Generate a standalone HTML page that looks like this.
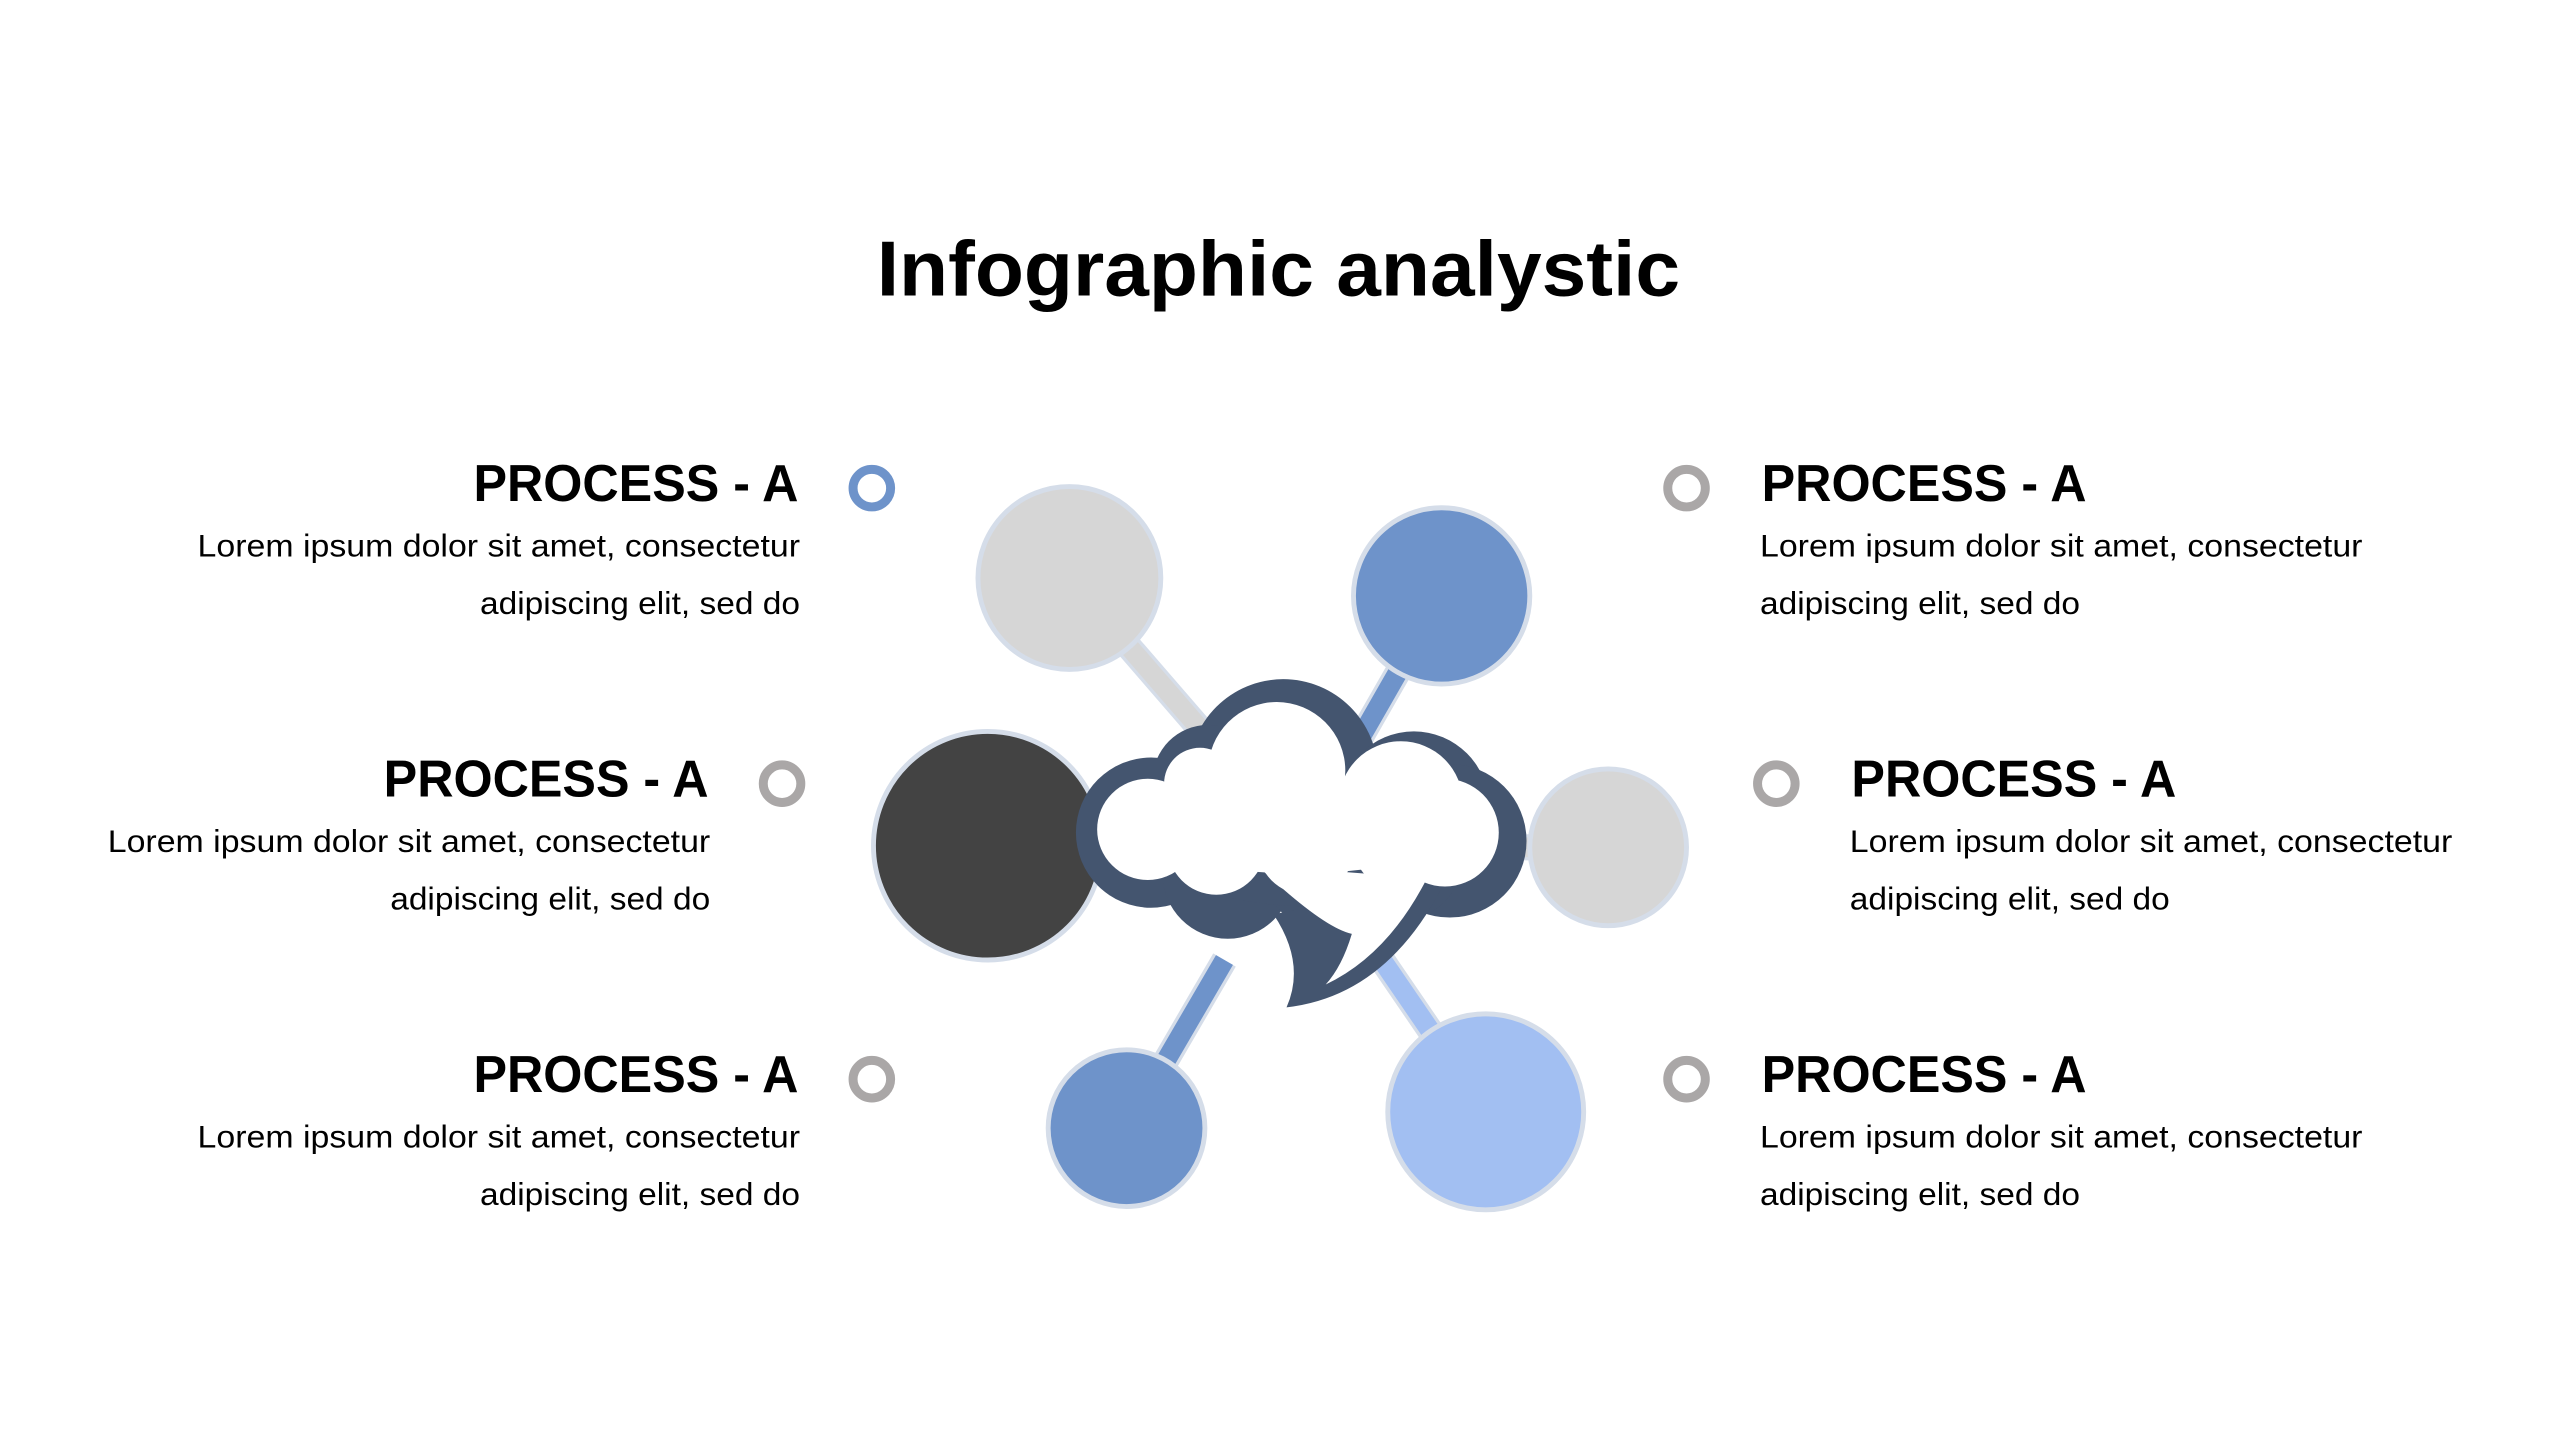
<!DOCTYPE html>
<html><head><meta charset="utf-8"><style>
html,body{margin:0;padding:0;background:#fff;}
svg{display:block;}
text{font-family:"Liberation Sans",Arial,sans-serif;}
</style></head><body>
<svg width="2560" height="1440" viewBox="0 0 1568 882" xmlns="http://www.w3.org/2000/svg">
<rect width="1568" height="882" fill="#fff"/>
<text x="783" y="181" text-anchor="middle" font-size="48" font-weight="bold" fill="#000" textLength="492" lengthAdjust="spacingAndGlyphs">Infographic analystic</text>

<g stroke-linecap="butt">
 <line x1="655" y1="354" x2="790" y2="510" stroke="#d5dde9" stroke-width="16"/>
 <line x1="655" y1="354" x2="790" y2="510" stroke="#d6d6d6" stroke-width="12"/>
 <line x1="883" y1="365" x2="800" y2="510" stroke="#d5dde9" stroke-width="16"/>
 <line x1="883" y1="365" x2="800" y2="510" stroke="#6e93ca" stroke-width="12"/>
 <line x1="985" y1="519" x2="800" y2="519" stroke="#d5dde9" stroke-width="16"/>
 <line x1="985" y1="519" x2="800" y2="519" stroke="#d6d6d6" stroke-width="12"/>
 <line x1="690" y1="691" x2="750" y2="588" stroke="#d5dde9" stroke-width="16"/>
 <line x1="690" y1="691" x2="750" y2="588" stroke="#6e93ca" stroke-width="12"/>
 <line x1="910" y1="681" x2="800" y2="520" stroke="#d5dde9" stroke-width="16"/>
 <line x1="910" y1="681" x2="800" y2="520" stroke="#a2bff2" stroke-width="12"/>
</g>

<g stroke="#d5dde9" stroke-width="3">
 <circle cx="655" cy="354" r="56" fill="#d6d6d6"/>
 <circle cx="883" cy="365" r="54" fill="#6e93ca"/>
 <circle cx="605" cy="518" r="70" fill="#434343"/>
 <circle cx="985" cy="519" r="48" fill="#d6d6d6"/>
 <circle cx="690" cy="691" r="48" fill="#6e93ca"/>
 <circle cx="910" cy="681" r="60" fill="#a2bff2"/>
</g>

<g fill="#44556f">
 <circle cx="786" cy="474" r="58"/>
 <circle cx="866" cy="494" r="46"/>
 <circle cx="888" cy="515" r="47"/>
 <circle cx="740" cy="478" r="34"/>
 <circle cx="705" cy="510" r="46"/>
 <circle cx="752" cy="535" r="40"/>
 <circle cx="812" cy="532" r="38"/>
 <circle cx="862" cy="530" r="32"/>
 <ellipse cx="800" cy="510" rx="100" ry="45"/>
 <path d="M780 560 Q800 590 788 617 Q850 610 885 540 Z"/>
</g>
<g fill="#fff">
 <circle cx="782" cy="472" r="42"/>
 <circle cx="858" cy="492" r="38"/>
 <circle cx="885" cy="510" r="33"/>
 <circle cx="735" cy="480" r="22"/>
 <circle cx="703" cy="508" r="31"/>
 <circle cx="745" cy="518" r="30"/>
 <circle cx="800" cy="518" r="30"/>
 <circle cx="855" cy="518" r="26"/>
 <ellipse cx="795" cy="505" rx="100" ry="30"/>
 <path d="M770 530 Q810 568 828 572 Q822 592 812 603 Q850 585 874 538 Z"/>
</g>

<g fill="none" stroke-width="5.5">
 <circle cx="534" cy="299" r="11.5" stroke="#6e93ca"/>
 <circle cx="479" cy="480" r="11.5" stroke="#aaa7a7"/>
 <circle cx="534" cy="661" r="11.5" stroke="#aaa7a7"/>
 <circle cx="1033" cy="299" r="11.5" stroke="#aaa7a7"/>
 <circle cx="1088" cy="480" r="11.5" stroke="#aaa7a7"/>
 <circle cx="1033" cy="661" r="11.5" stroke="#aaa7a7"/>
</g>

<g fill="#000">
 <text x="489" y="307" text-anchor="end" font-size="32" font-weight="bold" textLength="199" lengthAdjust="spacingAndGlyphs">PROCESS - A</text>
 <text x="490" y="341" text-anchor="end" font-size="19" textLength="369" lengthAdjust="spacingAndGlyphs">Lorem ipsum dolor sit amet, consectetur</text>
 <text x="490" y="376" text-anchor="end" font-size="19" textLength="196" lengthAdjust="spacingAndGlyphs">adipiscing elit, sed do</text>

 <text x="434" y="488" text-anchor="end" font-size="32" font-weight="bold" textLength="199" lengthAdjust="spacingAndGlyphs">PROCESS - A</text>
 <text x="435" y="522" text-anchor="end" font-size="19" textLength="369" lengthAdjust="spacingAndGlyphs">Lorem ipsum dolor sit amet, consectetur</text>
 <text x="435" y="557" text-anchor="end" font-size="19" textLength="196" lengthAdjust="spacingAndGlyphs">adipiscing elit, sed do</text>

 <text x="489" y="669" text-anchor="end" font-size="32" font-weight="bold" textLength="199" lengthAdjust="spacingAndGlyphs">PROCESS - A</text>
 <text x="490" y="703" text-anchor="end" font-size="19" textLength="369" lengthAdjust="spacingAndGlyphs">Lorem ipsum dolor sit amet, consectetur</text>
 <text x="490" y="738" text-anchor="end" font-size="19" textLength="196" lengthAdjust="spacingAndGlyphs">adipiscing elit, sed do</text>

 <text x="1079" y="307" font-size="32" font-weight="bold" textLength="199" lengthAdjust="spacingAndGlyphs">PROCESS - A</text>
 <text x="1078" y="341" font-size="19" textLength="369" lengthAdjust="spacingAndGlyphs">Lorem ipsum dolor sit amet, consectetur</text>
 <text x="1078" y="376" font-size="19" textLength="196" lengthAdjust="spacingAndGlyphs">adipiscing elit, sed do</text>

 <text x="1134" y="488" font-size="32" font-weight="bold" textLength="199" lengthAdjust="spacingAndGlyphs">PROCESS - A</text>
 <text x="1133" y="522" font-size="19" textLength="369" lengthAdjust="spacingAndGlyphs">Lorem ipsum dolor sit amet, consectetur</text>
 <text x="1133" y="557" font-size="19" textLength="196" lengthAdjust="spacingAndGlyphs">adipiscing elit, sed do</text>

 <text x="1079" y="669" font-size="32" font-weight="bold" textLength="199" lengthAdjust="spacingAndGlyphs">PROCESS - A</text>
 <text x="1078" y="703" font-size="19" textLength="369" lengthAdjust="spacingAndGlyphs">Lorem ipsum dolor sit amet, consectetur</text>
 <text x="1078" y="738" font-size="19" textLength="196" lengthAdjust="spacingAndGlyphs">adipiscing elit, sed do</text>
</g>
</svg>
</body></html>
